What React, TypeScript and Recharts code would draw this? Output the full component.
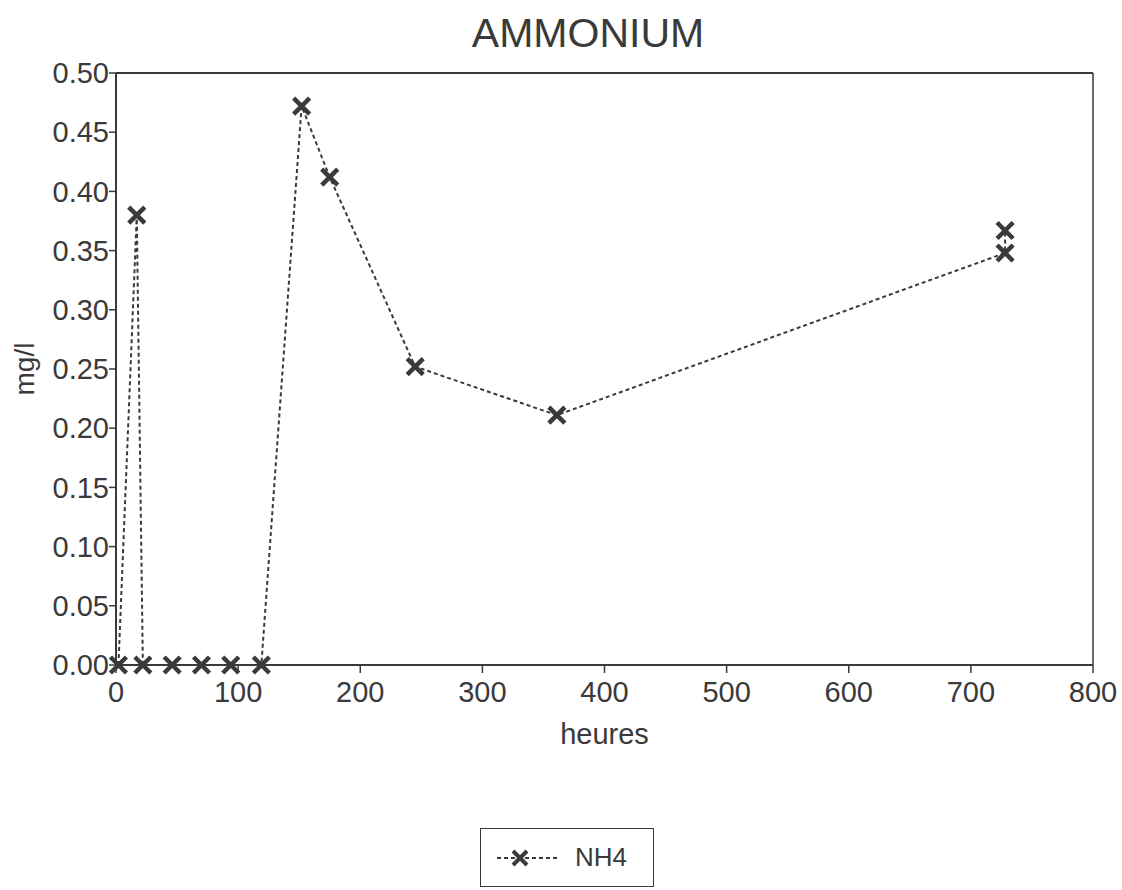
import { LineChart, Line, XAxis, YAxis, ReferenceLine, Label } from "recharts";

// hours of sampling and NH4 concentration (mg/l)
const HOURS = [2, 17, 22, 46, 70, 94, 119, 152, 175, 245, 361, 728, 728];
const NH4 = [0, 0.38, 0, 0, 0, 0, 0, 0.472, 0.412, 0.252, 0.211, 0.348, 0.367];
const X_TICKS = [0, 100, 200, 300, 400, 500, 600, 700, 800];
const Y_TICKS = [0, 0.05, 0.1, 0.15, 0.2, 0.25, 0.3, 0.35, 0.4, 0.45, 0.5];

const data = HOURS.map((h, i) => ({ h, nh4: NH4[i] }));

const INK = "#3a3a3a";
const FONT = "'Liberation Sans', Arial, sans-serif";
const ARM = 8;

function Cross(props: any) {
  const { cx, cy } = props;
  if (cx == null || cy == null) return null;
  return (
    <path
      d={`M${cx - ARM},${cy - ARM}L${cx + ARM},${cy + ARM}M${cx + ARM},${cy - ARM}L${cx - ARM},${cy + ARM}`}
      stroke={INK}
      strokeWidth={4.5}
      fill="none"
      strokeDasharray="none"
    />
  );
}

export default function App() {
  const tick = { fontSize: 29, fill: INK, fontFamily: FONT };
  return (
    <div style={{ position: "absolute", left: 0, top: 0, width: 1122, height: 890, background: "#fff", fontFamily: FONT }}>
      <div style={{ position: "absolute", left: 0, width: 1122, top: 10, textAlign: "center", fontSize: 41, color: INK, paddingLeft: 54, boxSizing: "border-box" }}>
        AMMONIUM
      </div>
      <LineChart width={1122} height={890} data={data} margin={{ top: 73, right: 29, bottom: 0, left: 0 }}>
        <XAxis
          dataKey="h"
          type="number"
          domain={[0, 800]}
          ticks={X_TICKS}
          height={225}
          tick={tick}
          tickSize={8}
          tickMargin={8}
          stroke={INK}
          strokeWidth={2}
          tickLine={{ stroke: INK, strokeWidth: 1.5 }}
        >
          <Label value="heures" position="insideTop" offset={58} style={{ fontSize: 29, fill: INK, fontFamily: FONT }} />
        </XAxis>
        <YAxis
          type="number"
          domain={[0, 0.5]}
          ticks={Y_TICKS}
          width={116}
          tick={tick}
          tickFormatter={(v: number) => v.toFixed(2)}
          tickSize={7}
          tickMargin={0}
          stroke={INK}
          strokeWidth={2}
          tickLine={{ stroke: INK, strokeWidth: 1.5 }}
        >
          <Label value="mg/l" angle={-90} position="insideLeft" offset={24} style={{ fontSize: 28, fill: INK, fontFamily: FONT, textAnchor: "middle" }} />
        </YAxis>
        <ReferenceLine y={0.5} stroke={INK} strokeWidth={2} />
        <ReferenceLine x={800} stroke={INK} strokeWidth={1.5} />
        <Line
          dataKey="nh4"
          type="linear"
          stroke={INK}
          strokeWidth={2}
          strokeDasharray="4 3"
          dot={<Cross />}
          isAnimationActive={false}
        />
      </LineChart>
      <div style={{ position: "absolute", left: 480, top: 828, width: 174, height: 59, border: `1.5px solid ${INK}`, boxSizing: "border-box", display: "flex", alignItems: "center" }}>
        <svg width={70} height={30} style={{ marginLeft: 14 }}>
          <line x1={2} y1={15} x2={64} y2={15} stroke={INK} strokeWidth={2} strokeDasharray="4 3" />
          <path d="M18,8L32,22M32,8L18,22" stroke={INK} strokeWidth={4} />
        </svg>
        <span style={{ fontSize: 26, color: INK, marginLeft: 10 }}>NH4</span>
      </div>
    </div>
  );
}
